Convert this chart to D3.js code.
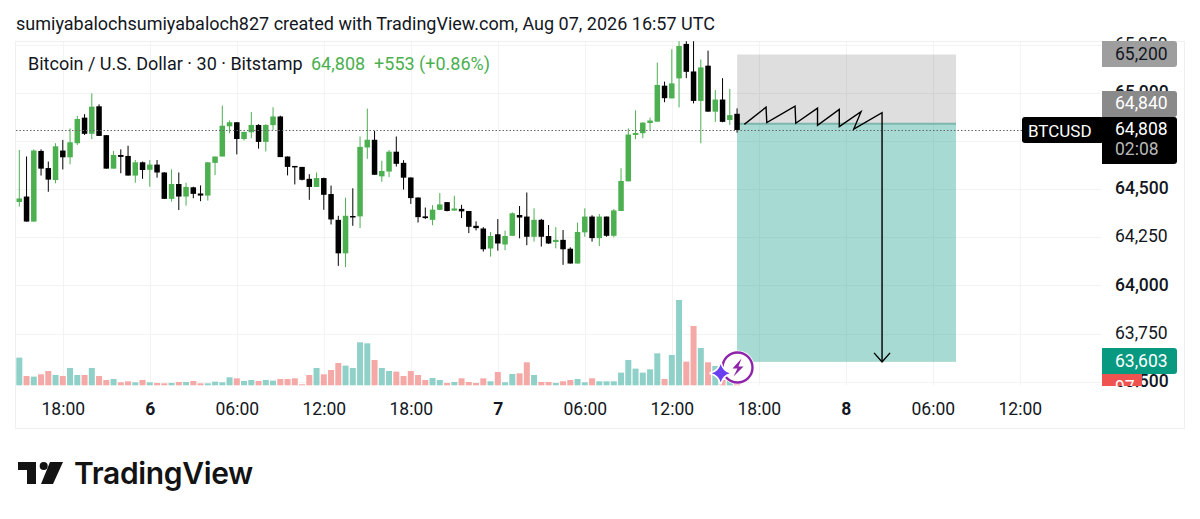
<!DOCTYPE html>
<html>
<head>
<meta charset="utf-8">
<script src="https://cdn.jsdelivr.net/npm/d3@7"></script>
<style>
  html, body { margin: 0; background: #fff; }
  text { font-family: Roboto, sans-serif; fill: #131722; }
  .domain, .tick line { display: none; }
</style>
</head>
<body>
<div id="chart"></div>
<script>
// 30 minute bars, bar 0 = Aug 05 15:00 UTC
const opens = [64434,64462,64332,64699,64610,64548,64701,64666,64739,64872,64788,64931,64781,64607,64678,64673,64571,64640,64601,64628,
  64587,64450,64527,64462,64510,64478,64467,64637,64670,64827,64848,64761,64796,64834,64746,64833,64878,64670,64621,64616,
  64554,64512,64558,64475,64341,64167,64361,64359,64717,64757,64567,64592,64695,64637,64561,64457,64359,64341,64393,64433,
  64389,64398,64387,64310,64296,64192,64266,64213,64258,64366,64358,64253,64341,64257,64226,64237,64191,64114,64276,64358,
  64246,64358,64258,64387,64541,64782,64791,64844,64851,65038,64972,65076,65255,65112,64959,65142,64903,64966,64860,64892];
const highs = [64704,64670,64707,64707,64644,64739,64756,64816,64881,64890,64998,64941,64781,64699,64707,64726,64652,64644,64652,64652,
  64589,64603,64587,64534,64513,64520,64640,64670,64934,64857,64848,64798,64901,64838,64838,64926,64882,64670,64621,64616,
  64578,64587,64560,64519,64362,64456,64505,64774,64919,64803,64648,64704,64774,64651,64561,64457,64405,64417,64480,64433,
  64466,64419,64387,64333,64303,64278,64345,64285,64380,64413,64483,64401,64346,64314,64303,64288,64198,64327,64401,64365,
  64371,64358,64397,64609,64816,64910,64848,64872,65158,65059,65227,65269,65269,65269,65174,65220,65015,65077,65021,64920];
const lows = [64410,64332,64332,64571,64487,64531,64603,64630,64730,64782,64760,64777,64607,64607,64583,64571,64534,64554,64513,64560,
  64450,64436,64392,64415,64453,64438,64441,64574,64670,64791,64681,64753,64765,64711,64696,64808,64667,64572,64525,64546,
  64445,64512,64393,64317,64102,64095,64310,64298,64658,64575,64539,64563,64618,64498,64424,64327,64345,64313,64391,64385,
  64389,64350,64272,64286,64176,64150,64181,64183,64258,64245,64209,64228,64202,64216,64193,64107,64114,64114,64253,64228,
  64205,64253,64250,64387,64541,64760,64765,64808,64851,64952,64972,64925,65077,64946,64739,64903,64850,64848,64834,64794];
const closes = [64452,64332,64701,64607,64550,64723,64666,64744,64865,64788,64929,64777,64607,64678,64668,64571,64640,64600,64628,64587,
  64450,64527,64462,64512,64476,64467,64640,64670,64830,64848,64761,64798,64834,64746,64834,64878,64667,64616,64614,64549,
  64512,64558,64471,64343,64167,64362,64354,64720,64757,64575,64595,64695,64632,64560,64454,64355,64350,64394,64421,64387,
  64400,64385,64305,64298,64188,64257,64218,64257,64375,64353,64253,64341,64253,64218,64237,64188,64114,64278,64358,64246,
  64358,64258,64390,64543,64784,64792,64846,64857,65042,64973,65050,65244,65110,64959,65133,64903,64966,64850,64885,64808];
const volumes = [83,28,26,33,43,31,28,52,31,31,52,28,16,19,9,12,9,16,9,7,
  6,7,10,10,13,6,6,11,9,24,21,13,16,13,16,14,19,19,21,3,
  31,52,33,46,67,59,52,129,126,76,52,43,41,28,43,31,16,22,16,7,
  10,21,10,7,21,12,40,9,34,36,69,31,10,10,7,12,16,19,9,21,
  12,12,12,38,76,50,38,48,96,19,91,256,71,178,112,69,58,16,13,6];
const volumeUp = [1,0,1,0,0,1,0,1,1,0,1,0,0,1,0,0,1,0,1,0,
  0,1,0,1,0,0,1,1,1,1,0,1,1,0,1,1,0,0,0,0,
  0,1,0,0,0,1,1,1,1,0,1,1,0,0,0,0,0,1,1,0,
  1,0,0,0,0,1,0,1,1,0,0,1,0,0,1,0,0,1,1,0,
  1,1,1,1,1,1,1,1,1,0,1,1,0,0,1,0,1,0,1,0];

const priceTicks = [65250,65000,64750,64500,64250,64000,63750,63500];
const boldPrices = [65000,64500,64000,63500];
const timeTicks = [6,18,30,42,54,66,78,90,102,114,126,138];
const timeLabels = ["18:00","6","06:00","12:00","18:00","7","06:00","12:00","18:00","8","06:00","12:00"];
const dayLabels = ["6","7","8"];

const lastPrice = 64808, entryPrice = 64840, stopPrice = 65200, targetPrice = 63603;
const zoneBars = [99,129.2];
// hand drawn projection on top of the position tool
const pathBars = [100,103,103.1,107,107.1,110.1,110.1,113.1,113.1,116.1,115.1,119,119];
const pathPrices = [64837,64926,64846,64932,64843,64921,64832,64915,64825,64903,64813,64898,63603];

const svg = d3.select("#chart").append("svg").attr("width",1200).attr("height",519);

const x = d3.scaleLinear().domain([0,138]).range([19.3,1019.8]);
const y = d3.scaleLinear().domain([65000,63500]).range([93,381.7]);
const yVol = d3.scaleLinear().domain([0,256]).range([385.3,300]);

// frame
svg.append("rect").attr("x",15.5).attr("y",41.5).attr("width",1169).attr("height",387)
  .attr("fill","none").attr("stroke","#f0f0f0");

// grid
svg.append("g").selectAll("line").data(priceTicks).join("line")
  .attr("x1",16).attr("x2",1101).attr("y1",d=>Math.round(y(d))+.5).attr("y2",d=>Math.round(y(d))+.5)
  .attr("stroke","#f3f3f3");
svg.append("g").selectAll("line").data(timeTicks).join("line")
  .attr("x1",d=>Math.round(x(d))+.5).attr("x2",d=>Math.round(x(d))+.5).attr("y1",42).attr("y2",385)
  .attr("stroke","#f3f3f3");

// position tool
const zoneX = x(zoneBars[0]), zoneW = x(zoneBars[1])-x(zoneBars[0]);
svg.append("rect").attr("x",zoneX).attr("width",zoneW)
  .attr("y",y(stopPrice)).attr("height",y(entryPrice)-y(stopPrice))
  .attr("fill","#000").attr("fill-opacity",.13);
svg.append("rect").attr("x",zoneX).attr("width",zoneW)
  .attr("y",y(entryPrice)).attr("height",y(targetPrice)-y(entryPrice))
  .attr("fill","#089981").attr("fill-opacity",.36);
svg.append("line").attr("x1",zoneX).attr("x2",zoneX+zoneW).attr("y1",y(entryPrice)).attr("y2",y(entryPrice))
  .attr("stroke","#7cb6ac").attr("stroke-width",2);

// volume
svg.append("g").selectAll("rect").data(volumes).join("rect")
  .attr("x",(d,i)=>x(i)-3).attr("width",6)
  .attr("y",d=>yVol(d)).attr("height",d=>yVol(0)-yVol(d))
  .attr("fill",(d,i)=>volumeUp[i] ? "#8fd0c8" : "#f5a9a7");

// candles
svg.append("clipPath").attr("id","pane").append("rect").attr("x",15).attr("y",41).attr("width",1087).attr("height",345);
const candleG = svg.append("g").attr("clip-path","url(#pane)");
const candleColor = i => closes[i] >= opens[i] ? "#4caf50" : "#000";
candleG.selectAll("line").data(opens).join("line")
  .attr("x1",(d,i)=>x(i)).attr("x2",(d,i)=>x(i))
  .attr("y1",(d,i)=>y(highs[i])).attr("y2",(d,i)=>y(lows[i]))
  .attr("stroke",(d,i)=>candleColor(i)).attr("stroke-width",1);
candleG.selectAll("rect").data(opens).join("rect")
  .attr("x",(d,i)=>x(i)-2.75).attr("width",5.5)
  .attr("y",(d,i)=>y(Math.max(d,closes[i])))
  .attr("height",(d,i)=>Math.max(1.5,Math.abs(y(d)-y(closes[i]))))
  .attr("fill",(d,i)=>candleColor(i));

// last price line
svg.append("line").attr("x1",16).attr("x2",1022).attr("y1",Math.round(y(lastPrice))+.5).attr("y2",Math.round(y(lastPrice))+.5)
  .attr("stroke","#666").attr("stroke-dasharray","1.5 2");

// projection + arrow
const line = d3.line().x(d=>x(d[0])).y(d=>y(d[1]));
svg.append("path").attr("d",line(pathBars.map((b,i)=>[b,pathPrices[i]])))
  .attr("fill","none").attr("stroke","#000").attr("stroke-width",1.4);
const tipX = x(pathBars[pathBars.length-1]), tipY = y(targetPrice);
svg.append("path").attr("d",`M${tipX-8},${tipY-9}L${tipX},${tipY}L${tipX+8},${tipY-9}`)
  .attr("fill","none").attr("stroke","#000").attr("stroke-width",1.4);

// price axis
const priceAxis = svg.append("g").attr("transform","translate(1115,-1)")
  .call(d3.axisRight(y).tickValues(priceTicks).tickSize(0).tickPadding(0).tickFormat(d3.format(",")));
priceAxis.selectAll("text").attr("font-size",17.5).attr("font-family","Roboto")
  .attr("font-weight",d=>boldPrices.includes(d) ? 500 : 400);
priceAxis.selectAll(".tick").filter(d=>d===63500).select("text").attr("clip-path","url(#axisBottom)");
svg.append("clipPath").attr("id","axisBottom").append("rect").attr("x",0).attr("y",-20).attr("width",100).attr("height",26);

// time axis
const timeAxis = svg.append("g").attr("transform","translate(0,397)")
  .call(d3.axisBottom(x).tickValues(timeTicks).tickSize(0).tickPadding(6).tickFormat((d,i)=>timeLabels[i]));
timeAxis.selectAll("text").attr("font-size",17.5).attr("font-family","Roboto")
  .attr("font-weight",(d,i)=>dayLabels.includes(timeLabels[i]) ? 700 : 400);

// price labels
function rightRound(x0,y0,w,h,r){
  return `M${x0},${y0}H${x0+w-r}Q${x0+w},${y0} ${x0+w},${y0+r}V${y0+h-r}Q${x0+w},${y0+h} ${x0+w-r},${y0+h}H${x0}Z`;
}
svg.append("path").attr("d",rightRound(1102,41,75,26,3)).attr("fill","#9e9e9e");
svg.append("text").attr("x",1115).attr("y",59.5).attr("font-size",17.5).text(d3.format(",")(stopPrice));
svg.append("path").attr("d",rightRound(1102,91,75,26,3)).attr("fill","#8a8a8a");
svg.append("text").attr("x",1115).attr("y",108.5).attr("font-size",17.5).style("fill","#fff").text(d3.format(",")(entryPrice));
svg.append("path").attr("d",rightRound(1102,117,75,47,3)).attr("fill","#000");
svg.append("text").attr("x",1115).attr("y",135).attr("font-size",17.5).style("fill","#fff").text(d3.format(",")(lastPrice));
svg.append("text").attr("x",1115).attr("y",155).attr("font-size",17.5).style("fill","#b8b8b8").text("02:08");
svg.append("rect").attr("x",1022).attr("y",117).attr("width",82).attr("height",26).attr("rx",3).attr("fill","#000");
svg.append("text").attr("x",1028).attr("y",136.5).attr("font-size",17).style("fill","#fff").text("BTCUSD");

svg.append("clipPath").attr("id","redClip").append("rect").attr("x",1102).attr("y",374).attr("width",40).attr("height",12);
const redG = svg.append("g").attr("clip-path","url(#redClip)");
redG.append("rect").attr("x",1102).attr("y",374).attr("width",40).attr("height",12).attr("fill","#ef5350");
redG.append("text").attr("x",1115).attr("y",393).attr("font-size",17.5).style("fill","#fff").text("97");
svg.append("path").attr("d",rightRound(1102,348,75,26,3)).attr("fill","#089981");
svg.append("text").attr("x",1115).attr("y",366.5).attr("font-size",17.5).style("fill","#fff").text(d3.format(",")(targetPrice));

// header + legend
svg.append("text").attr("x",16).attr("y",30).attr("font-size",18)
  .text("sumiyabalochsumiyabaloch827 created with TradingView.com, Aug 07, 2026 16:57 UTC");
svg.append("text").attr("x",28).attr("y",70).attr("font-size",18)
  .text("Bitcoin / U.S. Dollar · 30 · Bitstamp");
svg.append("text").attr("x",311).attr("y",70).attr("font-size",18).style("fill","#4caf50").style("white-space","pre")
  .text("64,808  +553 (+0.86%)");

// badge
const badge = svg.append("g").attr("transform","translate(737.5,367.5)");
badge.append("circle").attr("r",17).attr("fill","#fff");
badge.append("circle").attr("r",15).attr("fill","#fff").attr("stroke","#8e24aa").attr("stroke-width",2.4);
badge.append("path").attr("d","M4,-9L-5,1H0L-4,9L6,-1H1Z").attr("fill","#8e24aa");
const star = svg.append("g").attr("transform","translate(720.7,373.3)");
star.append("path").attr("d","M0,-11Q2,-2 11,0Q2,2 0,11Q-2,2 -11,0Q-2,-2 0,-11Z").attr("fill","#fff").attr("stroke","#fff").attr("stroke-width",2);
star.append("path").attr("d","M0,-9Q2,-2 9,0Q2,2 0,9Q-2,2 -9,0Q-2,-2 0,-9Z").attr("fill","#6a3ff0");

// logo
const logo = svg.append("g").attr("fill","#131313");
logo.append("path").attr("d","M18,462H36V484H27V470H18Z");
logo.append("circle").attr("cx",43.7).attr("cy",466).attr("r",4);
logo.append("path").attr("d","M50,462H63L53,484H41Z");
svg.append("text").attr("x",74).attr("y",484).attr("font-size",30)
  .attr("font-weight",600).style("font-family","Inter").style("letter-spacing","-0.35px").style("fill","#131313").text("TradingView");
</script>
</body>
</html>
